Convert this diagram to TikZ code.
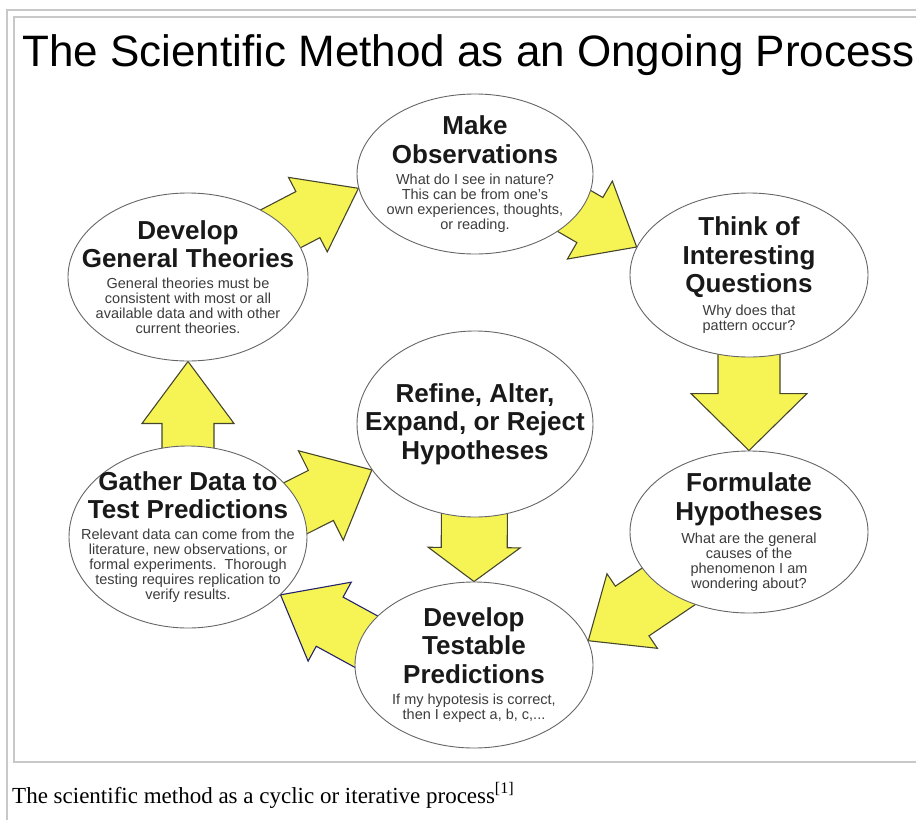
\documentclass[tikz,border=0pt]{standalone}
\usepackage{fontspec}
\setmainfont{Liberation Serif}
\setsansfont{Liberation Sans}
\usepackage{tikz}
\usetikzlibrary{calc,shapes,backgrounds,positioning}
\definecolor{arrowfill}{RGB}{246,244,84}
\definecolor{arrowedge}{RGB}{70,70,45}
\definecolor{navyedge}{RGB}{35,35,110}
\definecolor{framegray}{RGB}{200,200,200}
\definecolor{notegray}{RGB}{60,60,60}
\newcommand\titlefont{\fontsize{44}{48}\selectfont\sffamily}
\newcommand\headfont{\fontsize{26}{28.5}\selectfont\sffamily\bfseries\color{black!90}}
\newcommand\notefont{\fontsize{14.5}{15}\selectfont\sffamily\mdseries\color{notegray}}

\begin{document}
\begin{tikzpicture}[x=1pt,y=-1pt]
\tikzstyle{bubble}=[ellipse, draw=black!60, fill=white, line width=0.9pt, inner sep=0pt]
\tikzstyle{blurb}=[inner sep=0pt]
\tikzstyle{frameline}=[draw=framegray, line width=2pt]
\tikzstyle{fat}=[fill=arrowfill, line width=1.1pt, line join=miter]
\useasboundingbox (0,0) rectangle (916,820);

% frame, title and caption
\draw[frameline] (6,10) -- (916,10);
\draw[frameline] (7,10) -- (7,820);
\draw[frameline] (916,17) -- (14,17) -- (14,762) -- (916,762);
\node[anchor=base west, inner sep=0pt, font=\titlefont] (title) at (22,66) {The Scientific Method as an Ongoing Process};
\node[anchor=base west, inner sep=0pt, font=\fontsize{23}{26}\selectfont] (caption) at (12,803) {The scientific method as a cyclic or iterative process\textsuperscript{[1]}};

% the steps
\node[bubble, minimum width=236, minimum height=160] (obs) at (475,174) {};
\node[blurb] (obs-t) at (obs) {\parbox{226pt}{\centering\headfont Make\\Observations\par\vspace{6pt}\notefont What do I see in nature?\\This can be from one's\\own experiences, thoughts,\\or reading.\par}};
\node[bubble, minimum width=240, minimum height=168] (theo) at (188,277) {};
\node[blurb] (theo-t) at (theo) {\parbox{238pt}{\centering\headfont Develop\\General Theories\par\vspace{6pt}\notefont General theories must be\\consistent with most or all\\available data and with other\\current theories.\par}};
\node[bubble, minimum width=238, minimum height=164] (ques) at (749,275) {};
\node[blurb] (ques-t) at (ques) {\parbox{228pt}{\centering\headfont Think of\\Interesting\\Questions\par\vspace{6pt}\notefont Why does that\\pattern occur?\par}};
\node[bubble, minimum width=236, minimum height=186] (refi) at (475,424) {};
\node[blurb] (refi-t) at (refi) {\parbox{232pt}{\centering\headfont Refine, Alter,\\Expand, or Reject\\Hypotheses\par}};
\node[bubble, minimum width=238, minimum height=182] (gath) at (188,537) {};
\node[blurb] (gath-t) at (gath) {\parbox{234pt}{\centering\headfont Gather Data to\\Test Predictions\par\vspace{6pt}\notefont Relevant data can come from the\\literature, new observations, or\\formal experiments.\ \ Thorough\\testing requires replication to\\verify results.\par}};
\node[bubble, minimum width=238, minimum height=162] (form) at (749,532) {};
\node[blurb] (form-t) at (form) {\parbox{228pt}{\centering\headfont Formulate\\Hypotheses\par\vspace{6pt}\notefont What are the general\\causes of the\\phenomenon I am\\wondering about?\par}};
\node[bubble, minimum width=238, minimum height=166] (pred) at (474,665) {};
\node[blurb] (pred-t) at (pred) {\parbox{228pt}{\centering\headfont Develop\\Testable\\Predictions\par\vspace{6pt}\notefont If my hypotesis is correct,\\then I expect a, b, c,...\par}};

% block arrows, tails hidden under the bubbles
\coordinate (obs-out) at ([xshift=35pt]obs.center);
\coordinate (gath-out) at ([xshift=50pt]gath.center);
\coordinate (pred-out) at ([xshift=-65pt]pred.center);
\begin{scope}[on background layer]
\foreach \src/\dst/\aw/\hw/\hlen/\ink in {theo.center/obs.187/26/42/57/arrowedge,
    obs-out/ques.166/26/45/54/arrowedge, ques.center/form.north/31/58/57/arrowedge,
    form.center/pred.12/30/45/53/arrowedge, pred-out/gath.-32/28/45/56/navyedge,
    gath.center/theo.south/26/46/62/arrowedge, gath-out/refi.204/28/50/57/arrowedge,
    refi.center/pred.north/33/46/34/arrowedge}
{
  \coordinate (neck) at ($(\dst)!\hlen pt!(\src)$);
  \filldraw[fat, draw=\ink] ($(\src)!\aw pt!90:(\dst)$) -- ($(neck)!\aw pt!90:(\dst)$)
    -- ($(neck)!\hw pt!90:(\dst)$) -- (\dst) -- ($(neck)!\hw pt!-90:(\dst)$)
    -- ($(neck)!\aw pt!-90:(\dst)$) -- ($(\src)!\aw pt!-90:(\dst)$) -- cycle;
}
\end{scope}
\end{tikzpicture}
\end{document}
